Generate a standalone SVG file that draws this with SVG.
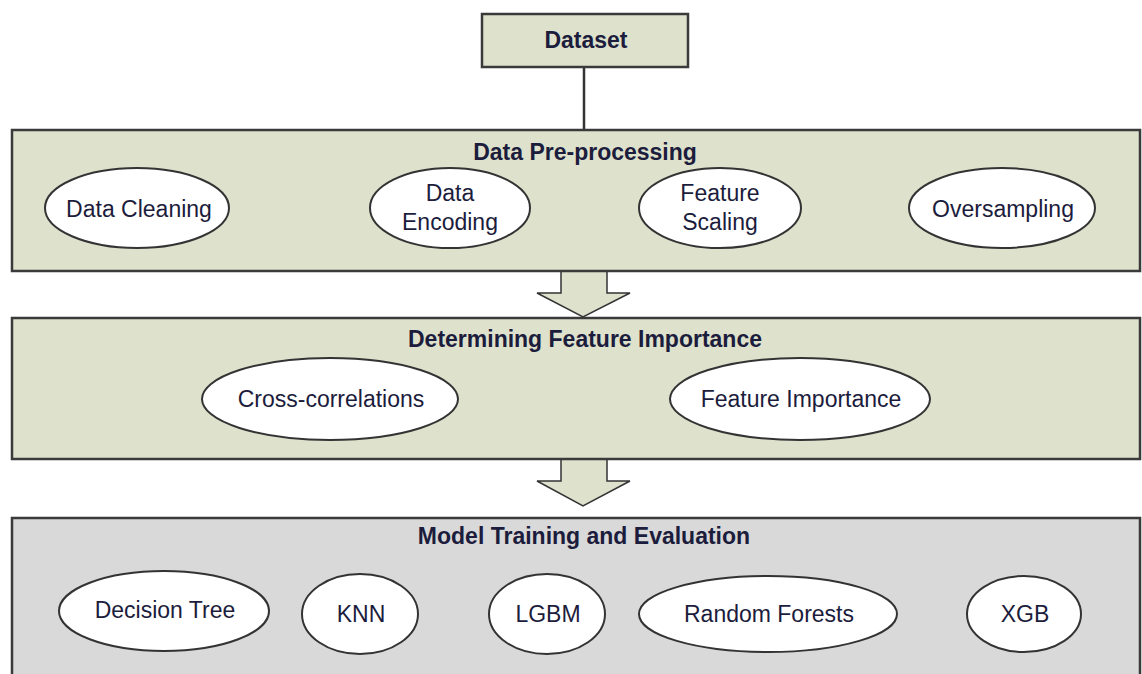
<svg xmlns="http://www.w3.org/2000/svg" width="1142" height="674" viewBox="0 0 1142 674">
<style>
.box{fill:#dee2cc;stroke:#3a3a3a;stroke-width:2.5}
.gray{fill:#d9d9d9;stroke:#3a3a3a;stroke-width:2.5}
.ell{fill:#ffffff;stroke:#333;stroke-width:2}
.arr{fill:#dee2cc;stroke:#333;stroke-width:1.5}
.t{font-family:"Liberation Sans",Arial,sans-serif;font-size:23px;fill:#1c1c3c;text-anchor:middle}
.b{font-weight:bold;font-size:23px}
</style>
<rect width="1142" height="674" fill="#ffffff"/>
<g id="connectors">
<line x1="584" y1="67" x2="584" y2="130" stroke="#333" stroke-width="2.5"/>
<path class="arr" d="M561,271 L561,293 L537,293 L583,317 L630,293 L607,293 L607,271 Z"/>
<path class="arr" d="M561,459 L561,481 L537,481 L583,506 L630,481 L607,481 L607,459 Z"/>
</g>
<g id="dataset">
<rect class="box" x="482" y="14" width="206" height="53"/>
<text class="t b" x="586" y="48">Dataset</text>
</g>
<g id="preprocessing">
<rect class="box" x="12" y="130" width="1128" height="141"/>
<text class="t b" x="585" y="160">Data Pre-processing</text>
</g>
<g id="data-cleaning">
<ellipse class="ell" cx="137" cy="208" rx="92" ry="40"/>
<text class="t" x="139" y="217">Data Cleaning</text>
</g>
<g id="data-encoding">
<ellipse class="ell" cx="450" cy="208" rx="80" ry="40"/>
<text class="t" x="450" y="201">Data</text>
<text class="t" x="450" y="230">Encoding</text>
</g>
<g id="feature-scaling">
<ellipse class="ell" cx="720" cy="208" rx="81" ry="40"/>
<text class="t" x="720" y="201">Feature</text>
<text class="t" x="720" y="230">Scaling</text>
</g>
<g id="oversampling">
<ellipse class="ell" cx="1002" cy="208" rx="93" ry="40"/>
<text class="t" x="1003" y="217">Oversampling</text>
</g>
<g id="feature-importance-panel">
<rect class="box" x="12" y="318" width="1128" height="141"/>
<text class="t b" x="585" y="347">Determining Feature Importance</text>
</g>
<g id="cross-correlations">
<ellipse class="ell" cx="330" cy="399" rx="128" ry="41"/>
<text class="t" x="331" y="407">Cross-correlations</text>
</g>
<g id="feature-importance">
<ellipse class="ell" cx="800" cy="399" rx="130" ry="41"/>
<text class="t" x="801" y="407">Feature Importance</text>
</g>
<g id="model-training">
<rect class="gray" x="12" y="518" width="1128" height="170"/>
<text class="t b" x="584" y="544">Model Training and Evaluation</text>
</g>
<g id="decision-tree">
<ellipse class="ell" cx="164" cy="611" rx="105" ry="40"/>
<text class="t" x="165" y="618">Decision Tree</text>
</g>
<g id="knn">
<ellipse class="ell" cx="360" cy="614" rx="58" ry="40"/>
<text class="t" x="361" y="622">KNN</text>
</g>
<g id="lgbm">
<ellipse class="ell" cx="547" cy="614" rx="58" ry="40"/>
<text class="t" x="548" y="622">LGBM</text>
</g>
<g id="random-forests">
<ellipse class="ell" cx="768" cy="614" rx="129" ry="38"/>
<text class="t" x="769" y="622">Random Forests</text>
</g>
<g id="xgb">
<ellipse class="ell" cx="1024" cy="614" rx="57" ry="38"/>
<text class="t" x="1025" y="622">XGB</text>
</g>
</svg>
